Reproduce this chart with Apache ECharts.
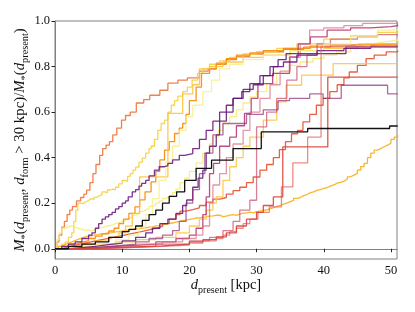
<!DOCTYPE html>
<html><head><meta charset="utf-8">
<script src="https://cdn.jsdelivr.net/npm/echarts@6/dist/echarts.min.js"></script>
<style>html,body{margin:0;padding:0;background:#fff}#c{width:415px;height:312px}</style>
</head><body><div id="c"></div>
<script>
// tick labels
const xTicks = [0, 10, 20, 30, 40, 50];
const yTicks = [0, 0.2, 0.4, 0.6, 0.8, 1.0];

// series: [d_present (kpc), cumulative fraction]
const orangeEarly = [[0,0],[0.3,0.03],[0.6,0.06],[1,0.095],[1.4,0.12],[1.8,0.15],[2.2,0.17],[2.6,0.185],[3.2,0.21],[3.8,0.225],[4.3,0.24],[4.7,0.257],[5.2,0.29],[5.65,0.33],[6.1,0.37],[6.65,0.41],[7.1,0.44],[7.6,0.455],[8.1,0.47],[8.6,0.5],[9.2,0.53],[9.9,0.565],[10.5,0.585],[11.2,0.6],[12.1,0.64],[13.2,0.655],[14.1,0.674],[15.6,0.696],[16.8,0.727],[18.3,0.74],[19.7,0.75],[21.5,0.78],[22.8,0.79],[24,0.815],[25.5,0.83],[27,0.845],[29,0.855],[31,0.865],[34,0.875],[37,0.885],[41,0.895],[45,0.9],[51,0.905]];
const yellowNoisy = [[0,0],[0.5,0.01],[1,0.02],[1.5,0.03],[2,0.05],[2.5,0.07],[2.8,0.12],[3.1,0.17],[3.4,0.2],[3.8,0.198],[4.2,0.206],[4.6,0.212],[5,0.22],[5.4,0.216],[5.8,0.226],[6.2,0.232],[6.6,0.238],[7,0.25],[7.4,0.246],[7.8,0.258],[8.2,0.262],[8.6,0.258],[9,0.27],[9.5,0.285],[10,0.3],[10.4,0.296],[10.8,0.318],[11.2,0.33],[11.6,0.345],[12,0.358],[12.5,0.38],[13,0.398],[13.5,0.42],[14,0.44],[14.3,0.45],[14.8,0.48],[15.3,0.52],[15.8,0.55],[16.3,0.565],[16.8,0.6],[17.3,0.63],[17.8,0.65],[18.3,0.67],[19,0.69],[19.7,0.71],[20.4,0.74],[21.2,0.77],[22,0.79],[23,0.81],[24.5,0.825],[26,0.84],[28,0.855],[30,0.865],[33,0.88],[36,0.9],[40,0.92],[44,0.935],[48,0.95],[51,0.955]];
const paleNoisy = [[0,0],[0.3,0.04],[0.6,0.07],[1,0.09],[1.5,0.097],[2,0.1],[2.5,0.094],[3,0.09],[3.5,0.086],[4,0.08],[4.5,0.083],[5,0.077],[5.5,0.085],[6,0.089],[6.5,0.094],[7,0.097],[7.5,0.101],[8,0.104],[8.5,0.111],[9,0.115],[9.5,0.119],[10,0.126],[10.5,0.131],[11,0.139],[11.5,0.148],[12,0.154],[12.5,0.163],[13,0.17],[13.5,0.177],[14,0.186],[14.5,0.19],[15,0.2],[15.5,0.209],[16,0.221],[16.5,0.229],[17,0.236],[17.5,0.246],[18,0.262],[18.6,0.29],[19.3,0.31],[20,0.34],[21,0.376],[22,0.42],[23,0.46],[23.5,0.49],[24.3,0.52],[25,0.55],[26,0.58],[27,0.61],[28,0.64],[29,0.667],[30,0.69],[31.5,0.725],[33,0.77],[34.9,0.805],[36.5,0.82],[38.4,0.836],[40,0.85],[41.9,0.864],[44,0.88],[46,0.9],[47.3,0.908],[49,0.915],[51,0.924]];
const amberSlow = [[0,0],[0.5,0.01],[1,0.018],[1.5,0.025],[2,0.03],[2.5,0.036],[3,0.042],[3.5,0.047],[4,0.052],[4.5,0.055],[5,0.058],[5.5,0.061],[6,0.062],[6.5,0.066],[7,0.067],[7.5,0.07],[8,0.071],[8.5,0.074],[9,0.075],[9.5,0.078],[10,0.08],[10.5,0.083],[11,0.084],[11.5,0.087],[12,0.088],[12.5,0.091],[13,0.092],[13.5,0.095],[14,0.096],[14.5,0.1],[15,0.102],[15.5,0.106],[16,0.107],[16.5,0.111],[17,0.113],[17.5,0.117],[18,0.12],[18.5,0.124],[19,0.126],[19.5,0.129],[20,0.131],[20.5,0.135],[21,0.136],[21.5,0.139],[22,0.14],[22.5,0.143],[23,0.144],[23.5,0.147],[24,0.148],[24.5,0.141],[25,0.143],[25.5,0.148],[26,0.15],[26.5,0.147],[27,0.152],[27.5,0.156],[28,0.157],[28.5,0.161],[29,0.158],[29.5,0.163],[30,0.165],[30.5,0.169],[31,0.17],[31.5,0.176],[32,0.18],[32.5,0.186],[33,0.19],[33.5,0.196],[34,0.2],[34.5,0.207],[35,0.212],[35.5,0.221],[36,0.225],[36.5,0.233],[37,0.238],[37.5,0.246],[38,0.25],[38.5,0.256],[39,0.26],[39.5,0.265],[40,0.268],[40.5,0.276],[41,0.28],[41.5,0.288],[42,0.291],[42.5,0.297],[43,0.305],[43.5,0.316],[44,0.323],[44.5,0.331],[45,0.345],[45.5,0.361],[46,0.375],[46.5,0.4],[47,0.42],[47.5,0.433],[48,0.44],[48.5,0.448],[49,0.455],[49.5,0.463],[50,0.48],[50.5,0.49],[51,0.5]];
const redOrangeNoisy = [[0,0],[1,0.008],[2,0.015],[3,0.022],[4,0.028],[5,0.034],[6,0.04],[7,0.046],[8,0.052],[9,0.058],[10,0.064],[11,0.07],[12,0.076],[13,0.083],[14,0.09],[15,0.098],[16,0.11],[17,0.13],[18,0.15],[18.6,0.165],[19.5,0.172],[20.5,0.18],[21.5,0.19],[22.5,0.205],[23.5,0.218],[24.5,0.225],[25.5,0.24],[26.5,0.255],[27.5,0.27],[28.5,0.29],[29.5,0.315],[30.5,0.345],[31.5,0.37],[32.5,0.4],[33.4,0.435],[34.3,0.47],[35.2,0.505],[36.1,0.52],[36.9,0.557],[37.9,0.59],[38.9,0.63],[39.9,0.66],[40.9,0.69],[42,0.72],[43,0.75],[43.8,0.776],[45,0.805],[46.3,0.835],[47.5,0.85],[49.3,0.864],[51,0.87]];
const orangeNoisy = [[0,0],[1,0.01],[2,0.02],[3,0.028],[4,0.036],[5,0.045],[6,0.055],[7,0.065],[8,0.078],[8.8,0.09],[9.5,0.11],[10.2,0.13],[11,0.155],[11.9,0.184],[12.6,0.215],[13.4,0.25],[14.3,0.294],[15,0.34],[15.6,0.39],[16.3,0.433],[17,0.47],[17.8,0.506],[18.5,0.53],[19,0.55],[19.5,0.59],[20,0.65],[21,0.71],[21.8,0.77],[23,0.79],[24,0.81],[25.5,0.835],[27,0.85],[29,0.86],[31,0.87],[34,0.88],[38,0.89],[42,0.895],[46,0.9],[51,0.9]];
const goldStepA = [[0,0],[2,0.01],[4,0.02],[6,0.035],[8,0.05],[9.5,0.07],[10.5,0.1],[11.5,0.155],[12.6,0.316],[16.8,0.594],[19,0.68],[20.5,0.72],[21.5,0.79],[23,0.8],[25,0.82],[28,0.84],[31,0.85],[35,0.87],[40,0.88],[45,0.9],[51,0.91]];
const goldStepB = [[0,0],[3,0.01],[6,0.02],[9,0.03],[12,0.04],[15,0.05],[18,0.07],[20,0.1],[21.5,0.13],[22.5,0.17],[23.5,0.2],[24,0.228],[25,0.3],[26,0.36],[27,0.4],[28,0.45],[29,0.49],[31,0.565],[33,0.645],[34.4,0.718],[36.7,0.762],[41.4,0.813],[51,0.813]];
const magentaStep = [[0,0],[3,0.005],[6,0.01],[9,0.015],[12,0.02],[15,0.03],[18,0.045],[20,0.06],[21,0.09],[22,0.15],[22.5,0.228],[23,0.33],[23.6,0.375],[24.5,0.45],[26,0.49],[27,0.54],[28.2,0.594],[29.2,0.66],[30.2,0.725],[32.4,0.77],[34.9,0.842],[36.2,0.9],[38,0.93],[40.5,0.96],[44,0.97],[47,0.975],[50,0.98],[51,0.985]];
const pinkStepA = [[0,0],[4,0.005],[8,0.01],[12,0.02],[16,0.03],[19,0.045],[21,0.06],[22,0.1],[23,0.2],[23.5,0.28],[24.5,0.33],[25.5,0.4],[26.5,0.46],[28,0.52],[29,0.6],[30.5,0.66],[32,0.72],[33.5,0.78],[35,0.84],[36.5,0.9],[37.9,0.96],[40,0.97],[43,0.98],[45.8,0.99],[51,0.995]];
const pinkStepB = [[0,0],[5,0.004],[10,0.01],[15,0.02],[20,0.035],[23,0.05],[25,0.08],[26.5,0.12],[27.5,0.17],[29,0.213],[30,0.535],[31.5,0.6],[33,0.66],[34.5,0.74],[36,0.8],[37.5,0.85],[39,0.9],[41,0.92],[45,0.93],[48,0.94],[51,0.94]];
const paleStep = [[0,0],[3,0.01],[6,0.02],[9,0.04],[11,0.06],[12.5,0.1],[13.5,0.15],[14.5,0.22],[15.5,0.3],[16.5,0.38],[17.5,0.45],[18.5,0.52],[19.5,0.58],[20.5,0.63],[22,0.69],[23.3,0.74],[24.5,0.79],[26,0.81],[28,0.83],[31,0.85],[35,0.87],[40,0.9],[44,0.93],[48,0.96],[51,0.97]];
const purpleNoisy = [[0,0],[1,0.01],[2,0.02],[3,0.03],[4,0.045],[5,0.06],[5.5,0.07],[6,0.09],[6.5,0.11],[7,0.13],[7.5,0.14],[8,0.15],[8.5,0.16],[9,0.175],[9.5,0.185],[10,0.2],[10.5,0.21],[10.9,0.228],[11.5,0.25],[12,0.26],[12.5,0.275],[12.9,0.287],[13.5,0.3],[14,0.32],[14.8,0.345],[15.5,0.36],[16.2,0.365],[16.8,0.375],[17.5,0.39],[18.5,0.41],[19.3,0.418],[20.5,0.44],[21.5,0.48],[22.5,0.52],[23.5,0.56],[24.5,0.6],[25.5,0.63],[26.5,0.66],[28,0.7],[29.5,0.72],[31,0.76],[32.5,0.8],[34,0.82],[36,0.85],[39,0.87],[43,0.88],[47,0.89],[51,0.89]];
const purpleStepA = [[0,0],[2,0.005],[4,0.01],[6,0.018],[8,0.025],[10,0.035],[12,0.05],[13.5,0.07],[14.5,0.09],[15.6,0.11],[16.8,0.13],[18,0.155],[19,0.19],[19.6,0.214],[20.5,0.27],[21.3,0.31],[22,0.345],[22.5,0.42],[23,0.45],[24,0.5],[24.5,0.56],[25.5,0.6],[26.5,0.66],[27.8,0.69],[29,0.725],[30.5,0.76],[32,0.8],[33.2,0.83],[34.4,0.857],[43.3,0.886],[51,0.886]];
const purpleStepB = [[0,0],[3,0.005],[6,0.012],[9,0.02],[12,0.03],[14,0.045],[16,0.06],[17.5,0.08],[18.5,0.12],[19.5,0.2],[20.5,0.26],[21.5,0.33],[22.3,0.42],[23.5,0.5],[25,0.55],[28.5,0.59],[31,0.61],[33.2,0.65],[34.9,0.66],[37.9,0.68],[39.9,0.66],[42.6,0.718],[49.5,0.68],[51,0.68]];
const redStepA = [[0,0],[4,0.003],[8,0.006],[12,0.01],[16,0.016],[20,0.025],[22,0.035],[24,0.045],[25,0.06],[26,0.075],[27,0.09],[28,0.11],[29,0.13],[30.2,0.16],[31.9,0.184],[33.7,0.272],[35.4,0.377],[37.6,0.49],[39.6,0.886],[51,0.886]];
const redStepB = [[0,0],[4,0.004],[8,0.008],[12,0.013],[16,0.02],[20,0.03],[22,0.04],[24,0.052],[25.5,0.07],[27,0.1],[28.5,0.13],[30,0.16],[31,0.19],[32.5,0.228],[33.9,0.447],[40.6,0.754],[51,0.754]];
const blackStep = [[0,0],[2,0.01],[4,0.02],[6,0.03],[8,0.05],[10,0.075],[11,0.085],[12,0.1],[13,0.125],[14,0.15],[15,0.17],[16,0.2],[17,0.23],[18.1,0.25],[19.3,0.3],[21,0.353],[23.3,0.389],[26.5,0.44],[30.7,0.513],[37.6,0.528],[49.8,0.539],[51,0.539]];

const seriesDefs = [
  [orangeEarly, '#ef6a2a', 0.85],
  [yellowNoisy, '#f4d13c', 0.9],
  [paleNoisy, '#f6ec7a', 0.9],
  [amberSlow, '#fbb21f', 0.95],
  [redOrangeNoisy, '#e5512f', 0.9],
  [orangeNoisy, '#f98d14', 0.95],
  [goldStepA, '#fbbf3a', 0.85],
  [goldStepB, '#fcc845', 0.9],
  [magentaStep, '#b52f6a', 0.85],
  [pinkStepA, '#d86a7e', 0.7],
  [pinkStepB, '#c94766', 0.7],
  [paleStep, '#f7f08a', 0.85],
  [purpleNoisy, '#6e1c80', 0.9],
  [purpleStepA, '#5d1272', 0.85],
  [purpleStepB, '#8e2b78', 0.7],
  [redStepA, '#e3655e', 0.75],
  [redStepB, '#d9433a', 0.9],
  [blackStep, '#111111', 1]
];

const FONT = 'Liberation Serif';
const richName = (fs, sfs, lh, pad) => ({
  t: {fontFamily: FONT, fontSize: fs, color: '#111', lineHeight: lh},
  i: {fontFamily: FONT, fontSize: fs, fontStyle: 'italic', color: '#111', lineHeight: lh},
  s: {fontFamily: FONT, fontSize: sfs, color: '#111', lineHeight: sfs, padding: [pad, 0, 0, 0]}
});
const chart = echarts.init(document.getElementById('c'), null, {renderer: 'canvas'});
chart.setOption({
  animation: false,
  backgroundColor: '#fff',
  grid: {left: 55, right: 18, top: 21, bottom: 53, containLabel: false, outerBoundsMode: 'none',
    show: true, borderColor: '#808080', borderWidth: 1},
  xAxis: {
    type: 'value', min: 0, max: 50.9,
    name: '{i|d}{s|present}{t| [kpc]}',
    nameLocation: 'middle', nameGap: 17, nameMoveOverlap: false,
    nameTextStyle: {rich: richName(14.5, 10, 19, 10)},
    axisLine: {show: true, lineStyle: {color: '#808080', width: 1}},
    axisTick: {show: true, inside: false, length: 3.5, lineStyle: {color: '#222'}, customValues: xTicks},
    axisLabel: {customValues: xTicks, fontFamily: FONT, fontSize: 12.5, color: '#111', margin: 5},
    splitLine: {show: false}
  },
  yAxis: {
    type: 'value', min: -0.045, max: 1.0,
    name: '{i|M}{s|*}{t|(}{i|d}{s|present}{t|, }{i|d}{s|form}{t| > 30 kpc)/}{i|M}{s|*}{t|(}{i|d}{s|present}{t|)}',
    nameLocation: 'middle', nameGap: 25, nameRotate: 90, nameMoveOverlap: false,
    nameTextStyle: {rich: richName(14.8, 10.3, 19, 10)},
    axisLine: {show: true, lineStyle: {color: '#808080', width: 1}},
    axisTick: {show: true, inside: false, length: 3.5, lineStyle: {color: '#222'}, customValues: yTicks},
    axisLabel: {customValues: yTicks, fontFamily: FONT, fontSize: 12.5, color: '#111', margin: 5,
      formatter: v => v.toFixed(1)},
    splitLine: {show: false}
  },
  series: seriesDefs.map(([data, color, op]) => ({
    type: 'line', step: 'end', data: data, showSymbol: false, symbol: 'none',
    lineStyle: {color: color, width: 1.3, opacity: op},
    itemStyle: {color: color}, silent: true
  }))
});
</script></body></html>
